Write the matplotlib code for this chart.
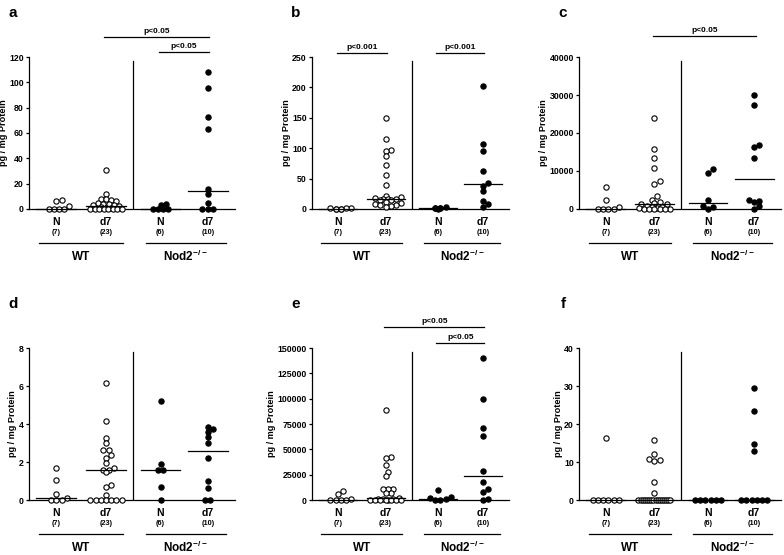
import numpy as np
import matplotlib.pyplot as plt
from matplotlib.transforms import blended_transform_factory

plt.rcParams['font.family'] = ['Liberation Sans', 'DejaVu Sans']
plt.rcParams['font.weight'] = 'bold'
plt.rcParams['mathtext.fontset'] = 'custom'
plt.rcParams['mathtext.rm'] = 'Liberation Sans:bold'
plt.rcParams['mathtext.bf'] = 'Liberation Sans:bold'

# labels
categories = ['N', 'd7', 'N', 'd7']
counts = ['(7)', '(23)', '(6)', '(10)']
groups = ['WT', r'Nod2$^{\mathbf{-/-}}$']
letters = ['a', 'b', 'c', 'd', 'e', 'f']

# values (pg / mg protein)
a_wt_n = [2.6, 7.0, 6.3, 0, 0, 0, 0]
a_wt_d7 = [31, 12, 8.2, 7.8, 7, 6.5, 5, 4.2, 3.8, 3.2, 2.8, 2.5, 1.5, 1, 0.5,
           0, 0, 0, 0, 0, 0, 0, 0]
a_ko_n = [3, 0, 0, 4, 0, 0]
a_ko_d7 = [108, 95.5, 72.5, 63, 16, 12, 4.5, 0, 0, 0]

b_wt_n = [1.5, 0.5, 0, 2, 1, 0, 0.5]
b_wt_d7 = [150, 115, 97, 95, 87, 73, 56, 39, 22, 19, 18, 17, 16, 16, 15, 14,
           12, 10, 8, 7, 6, 5, 4]
b_ko_n = [2, 1, 0, 4, 2, 1]
b_ko_d7 = [202, 107, 96, 63, 43, 38, 30, 13, 8, 3]

c_wt_n = [5800, 2500, 500, 0, 0, 0, 0]
c_wt_d7 = [24000, 15800, 13300, 10800, 7300, 6600, 3400, 2500, 1800, 1500,
           1300, 1200, 800, 600, 400, 300, 200, 100, 0, 0, 0, 0, 0]
c_ko_n = [10400, 9500, 2400, 700, 600, 0]
c_ko_d7 = [30000, 27400, 16800, 16200, 13300, 2400, 2000, 1800, 700, 0]

d_wt_n = [1.7, 1.05, 0.3, 0.1, 0, 0, 0]
d_wt_d7 = [6.15, 4.15, 3.25, 3.0, 2.65, 2.65, 2.35, 2.2, 1.95, 1.7, 1.6, 1.6,
           1.45, 0.8, 0.7, 0.25, 0, 0, 0, 0, 0, 0, 0]
d_ko_n = [5.2, 1.9, 1.6, 1.6, 0.7, 0]
d_ko_d7 = [3.85, 3.75, 3.6, 3.3, 3.0, 2.2, 1.0, 0.65, 0, 0]

e_wt_n = [9000, 5500, 800, 0, 0, 0, 0]
e_wt_d7 = [89000, 42500, 41500, 35000, 27500, 23500, 10800, 10600, 10500,
           7000, 6500, 1500, 1000, 800, 500, 300, 0, 0, 0, 0, 0, 0, 0]
e_ko_n = [10000, 3000, 1500, 500, 0, 0]
e_ko_d7 = [140000, 99500, 71500, 63500, 29000, 18000, 11000, 8000, 1000, 0]

f_wt_n = [16.2, 0, 0, 0, 0, 0, 0]
f_wt_d7 = [15.9, 12, 10.8, 10.5, 10.3, 4.7, 1.8, 0, 0, 0, 0, 0, 0, 0, 0, 0,
           0, 0, 0, 0, 0, 0, 0]
f_ko_n = [0, 0, 0, 0, 0, 0]
f_ko_d7 = [29.4, 23.5, 14.7, 12.9, 0, 0, 0, 0, 0, 0]

panels = [
    [a_wt_n, a_wt_d7, a_ko_n, a_ko_d7],
    [b_wt_n, b_wt_d7, b_ko_n, b_ko_d7],
    [c_wt_n, c_wt_d7, c_ko_n, c_ko_d7],
    [d_wt_n, d_wt_d7, d_ko_n, d_ko_d7],
    [e_wt_n, e_wt_d7, e_ko_n, e_ko_d7],
    [f_wt_n, f_wt_d7, f_ko_n, f_ko_d7],
]
y_max = [120, 250, 40000, 8, 150000, 40]
y_step = [20, 50, 10000, 2, 25000, 10]

# significance bars: (from group, to group, height, label)
sig_a = [(1, 3, 136, 'p<0.05'), (2, 3, 124, 'p<0.05')]
sig_b = [(0, 1, 257, 'p<0.001'), (2, 3, 257, 'p<0.001')]
sig_c = [(1, 3, 45400, 'p<0.05')]
sig_d = []
sig_e = [(1, 3, 170800, 'p<0.05'), (2, 3, 155000, 'p<0.05')]
sig_f = []
sigs = [sig_a, sig_b, sig_c, sig_d, sig_e, sig_f]

# layout (pixels of a 784x555 figure)
W, H = 784, 555
col_x = [(29, 235), (312, 509), (579, 781)]
row_y = [(209, 57), (500, 348)]
xpos = [1, 2, 3.1, 4.05]
divider = 2.55
lw = 0.9


def swarm_offsets(ax, x0, vals, d=5.2, limit=16.0):
    # beeswarm in pixel space; tied values go in one centred row
    pts = ax.transData.transform(np.column_stack([np.full(len(vals), x0), vals]))
    ys = pts[:, 1]
    ppu = ax.transData.transform([(1, 0)])[0, 0] - ax.transData.transform([(0, 0)])[0, 0]
    placed = []
    offs = np.zeros(len(vals))
    for v in np.unique(vals):
        idx = np.where(vals == v)[0]
        y = ys[idx[0]]
        n = len(idx)
        if n > 1:
            sp = min(d, 2 * limit / (n - 1))
            row = (np.arange(n) - (n - 1) / 2) * sp
            for i, c in zip(idx, row):
                offs[i] = c / ppu
                placed.append((c, y))
            continue
        best, best_gap = 0.0, -1
        k = 0
        while k * d * 0.5 <= limit:
            cands = [0.0] if k == 0 else [k * d * 0.5, -k * d * 0.5]
            for c in cands:
                gap = min([np.hypot(c - px, y - py) for px, py in placed] + [99])
                if gap >= 0.85 * d:
                    best, best_gap = c, 99
                    break
                if gap > best_gap:
                    best, best_gap = c, gap
            if best_gap == 99:
                break
            k += 1
        offs[idx[0]] = best / ppu
        placed.append((best, y))
    return offs


fig = plt.figure(figsize=(W / 100, H / 100), dpi=100)

for p, groups_vals in enumerate(panels):
    x0, x1 = col_x[p % 3]
    yb, yt = row_y[p // 3]
    ax = fig.add_axes([x0 / W, (H - yb) / H, (x1 - x0) / W, (yb - yt) / H])
    ax.set_xlim(0.45, 4.6)
    ax.set_ylim(0, y_max[p])
    ax.set_yticks(np.arange(0, y_max[p] + y_step[p] / 2, y_step[p]))
    ax.set_xticks([])
    for s in ['top', 'right']:
        ax.spines[s].set_visible(False)
    for s in ['left', 'bottom']:
        ax.spines[s].set_linewidth(lw)
    ax.tick_params(axis='y', labelsize=6.3, length=2.5, width=lw, pad=1.2)
    ax.set_ylabel('pg / mg Protein', fontsize=6.6, fontweight='bold', labelpad=1)

    for g, vals in enumerate(groups_vals):
        vals = np.asarray(vals, dtype=float)
        offs = swarm_offsets(ax, xpos[g], vals)
        face = 'white' if g < 2 else 'black'
        ax.plot(xpos[g] + offs, vals, 'o', ms=3.8, mfc=face, mec='black',
                mew=0.8, clip_on=False, zorder=3)
        med = np.median(vals)
        ax.plot([xpos[g] - 0.4, xpos[g] + 0.4], [med, med], color='black',
                lw=lw, clip_on=False, zorder=4)

    ax.plot([divider, divider], [0, 0.975 * y_max[p]], color='black', lw=lw)

    tr = blended_transform_factory(ax.transData, ax.transAxes)
    for g in range(4):
        ax.text(xpos[g], -0.085, categories[g], transform=tr, ha='center',
                va='center', fontsize=7.5, fontweight='bold')
        ax.text(xpos[g], -0.155, counts[g], transform=tr, ha='center',
                va='center', fontsize=5.2, fontweight='bold')
    for (a0, a1), name in zip([(0.65, 2.35), (2.8, 4.42)], groups):
        ax.plot([a0, a1], [-0.225, -0.225], color='black', lw=lw,
                transform=tr, clip_on=False)
        ax.text((a0 + a1) / 2, -0.315, name, transform=tr, ha='center',
                va='center', fontsize=8.5, fontweight='bold')

    for g0, g1, h, txt in sigs[p]:
        ax.plot([xpos[g0] - 0.03, xpos[g1] + 0.03], [h, h], color='black',
                lw=lw, clip_on=False)
        ax.annotate(txt, xy=((xpos[g0] + xpos[g1]) / 2, h), xytext=(0, 1.5),
                    textcoords='offset points', ha='center', va='bottom',
                    fontsize=6, fontweight='bold', annotation_clip=False)

    ax.text(-16 / (x1 - x0), 1 + 44 / (yb - yt), letters[p],
            transform=ax.transAxes, ha='center', va='center',
            fontsize=11, fontweight='bold')

fig.savefig('out.png', dpi=100)
